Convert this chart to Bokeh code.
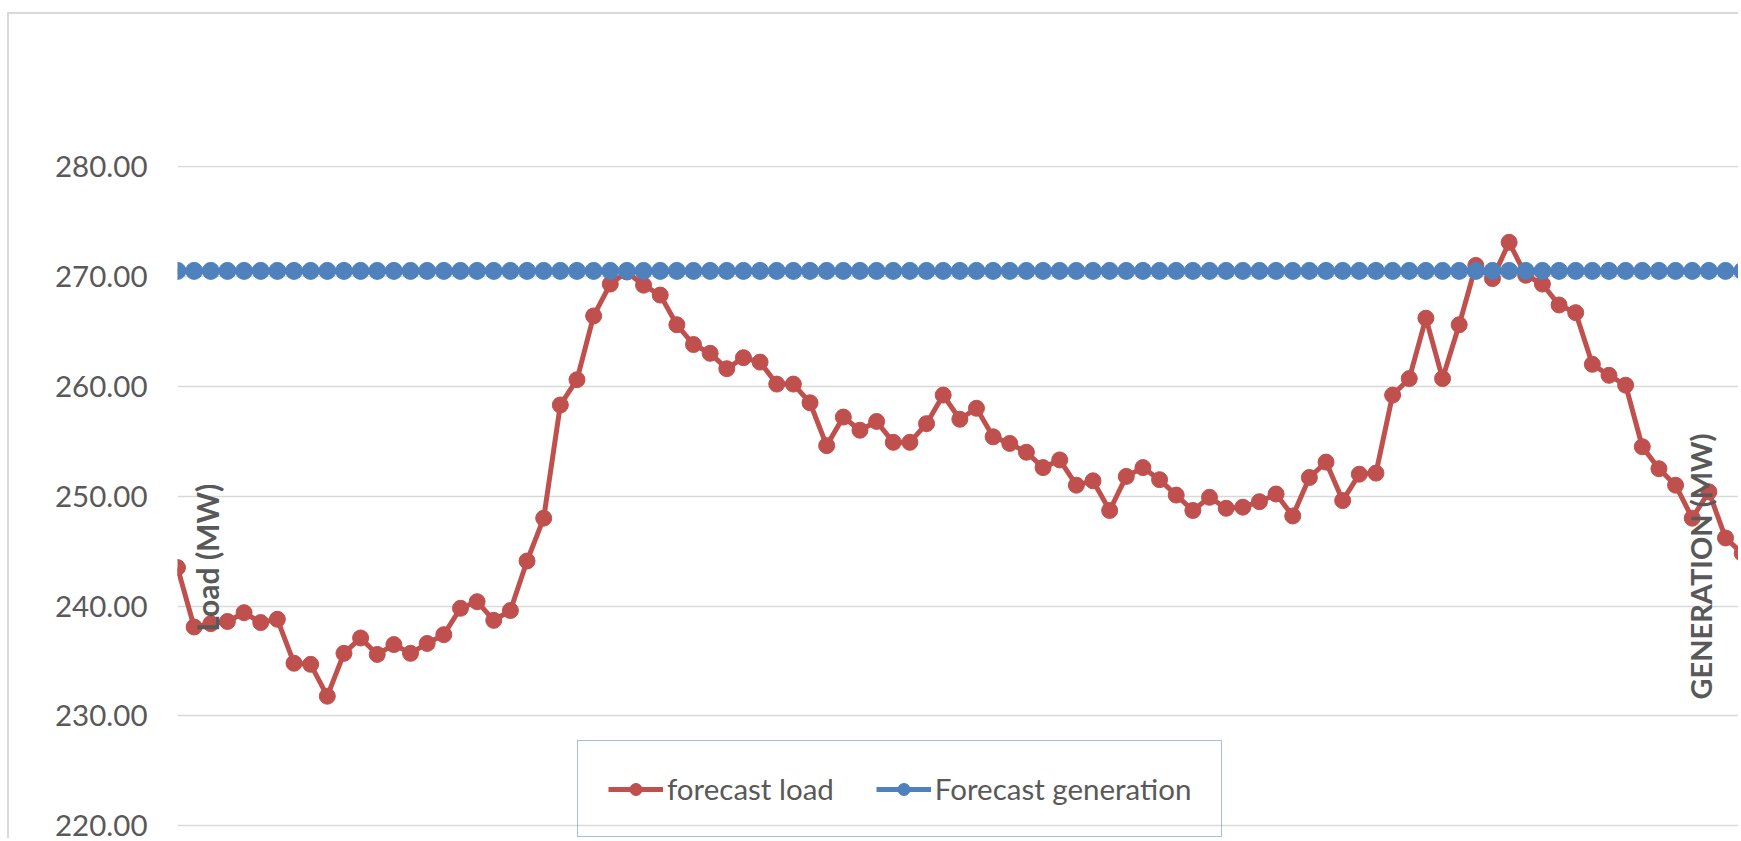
from bokeh.plotting import figure
from bokeh.models import Range1d, Legend, LegendItem, Label, NumeralTickFormatter, SingleIntervalTicker
from bokeh.embed import file_html
from bokeh.resources import INLINE
import math

# ---- data ----
interval = list(range(95))  # 15-min intervals visible in the crop
forecast_load = [
    243.5, 238.1, 238.4, 238.6, 239.4, 238.5, 238.8, 234.8, 234.7, 231.8,
    235.7, 237.1, 235.6, 236.5, 235.7, 236.6, 237.4, 239.8, 240.4, 238.7,
    239.6, 244.1, 248.0, 258.3, 260.6, 266.4, 269.3, 270.4, 269.2, 268.3,
    265.6, 263.8, 263.0, 261.6, 262.6, 262.2, 260.2, 260.2, 258.5, 254.6,
    257.2, 256.0, 256.8, 254.9, 254.9, 256.6, 259.2, 257.0, 258.0, 255.4,
    254.8, 254.0, 252.6, 253.3, 251.0, 251.4, 248.7, 251.8, 252.6, 251.5,
    250.1, 248.7, 249.9, 248.9, 249.0, 249.5, 250.2, 248.2, 251.7, 253.1,
    249.6, 252.0, 252.1, 259.2, 260.7, 266.2, 260.7, 265.6, 271.0, 269.8,
    273.1, 270.1, 269.3, 267.4, 266.7, 262.0, 261.0, 260.1, 254.5, 252.5,
    251.0, 248.0, 250.4, 246.2, 244.8,
]
forecast_generation = [
    270.5, 270.5, 270.5, 270.5, 270.5, 270.5, 270.5, 270.5, 270.5, 270.5,
    270.5, 270.5, 270.5, 270.5, 270.5, 270.5, 270.5, 270.5, 270.5, 270.5,
    270.5, 270.5, 270.5, 270.5, 270.5, 270.5, 270.5, 270.5, 270.5, 270.5,
    270.5, 270.5, 270.5, 270.5, 270.5, 270.5, 270.5, 270.5, 270.5, 270.5,
    270.5, 270.5, 270.5, 270.5, 270.5, 270.5, 270.5, 270.5, 270.5, 270.5,
    270.5, 270.5, 270.5, 270.5, 270.5, 270.5, 270.5, 270.5, 270.5, 270.5,
    270.5, 270.5, 270.5, 270.5, 270.5, 270.5, 270.5, 270.5, 270.5, 270.5,
    270.5, 270.5, 270.5, 270.5, 270.5, 270.5, 270.5, 270.5, 270.5, 270.5,
    270.5, 270.5, 270.5, 270.5, 270.5, 270.5, 270.5, 270.5, 270.5, 270.5,
    270.5, 270.5, 270.5, 270.5, 270.5,
]
series_names = ["forecast load", "Forecast generation"]
left_axis_title = "Load (MW)"
right_axis_title = "GENERATION (MW)"

RED = "#C0504D"
BLUE = "#4F81BD"
GRAY_TXT = "#595959"
FONT = "Lato"

p = figure(
    width=1731, height=826,
    output_backend="svg", toolbar_location=None,
    x_axis_location=None,
    x_range=Range1d(0, 93.9),
    y_range=Range1d(218.67, 280.09),
    min_border_left=168, min_border_top=151, min_border_right=0, min_border_bottom=0,
)
p.title.visible = False
p.outline_line_color = None
p.background_fill_color = "white"
p.border_fill_color = "white"
p.styles = {"border-left": "2px solid #d9d9d9", "border-top": "2px solid #d9d9d9",
            "margin-left": "7px", "margin-top": "12px"}

p.xgrid.visible = False
p.ygrid.grid_line_color = "#d9d9d9"
p.ygrid.grid_line_width = 1.5
p.yaxis.ticker = SingleIntervalTicker(interval=10)
p.yaxis.formatter = NumeralTickFormatter(format="0.00")
p.yaxis.axis_line_color = None
p.yaxis.major_tick_line_color = None
p.yaxis.minor_tick_line_color = None
p.yaxis.major_label_text_font = FONT
p.yaxis.major_label_text_font_size = "29.5px"
p.yaxis.major_label_text_color = GRAY_TXT
p.yaxis.major_label_standoff = 24

r_line = p.line(interval, forecast_load, line_color=RED, line_width=5)
r_pts = p.scatter(interval, forecast_load, marker="circle", size=16, fill_color=RED, line_color=RED)
b_line = p.line(interval, forecast_generation, line_color=BLUE, line_width=5)
b_pts = p.scatter(interval, forecast_generation, marker="circle", size=17, fill_color=BLUE, line_color=BLUE)

legend = Legend(
    items=[LegendItem(label=series_names[0], renderers=[r_line, r_pts]),
           LegendItem(label=series_names[1], renderers=[b_line, b_pts])],
    orientation="horizontal",
    location=(400, 3),
    glyph_width=55, glyph_height=30,
    label_standoff=4, spacing=42, padding=30,
    label_text_font=FONT, label_text_font_size="29.5px", label_text_color=GRAY_TXT,
    border_line_color="#4A7EBB", border_line_width=1.5,
    background_fill_alpha=0.0,
)
p.add_layout(legend, "center")

p.add_layout(Label(x=1.75, y=244.4, text=left_axis_title, angle=math.pi / 2,
                   text_align="center", text_baseline="middle",
                   text_font=FONT, text_font_style="bold", text_font_size="30px",
                   text_color=GRAY_TXT))
p.add_layout(Label(x=91.5, y=243.6, text=right_axis_title, angle=math.pi / 2,
                   text_align="center", text_baseline="middle",
                   text_font=FONT, text_font_style="bold", text_font_size="29px",
                   text_color=GRAY_TXT))

open("out.html", "w").write(file_html(p, INLINE))
